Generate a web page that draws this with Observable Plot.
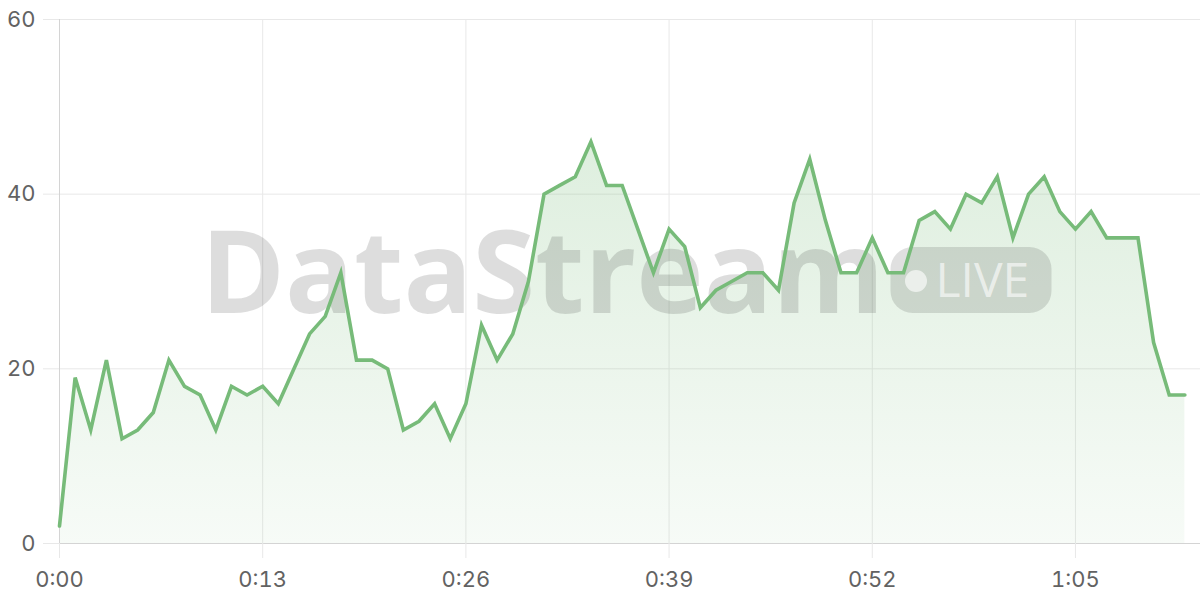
<!DOCTYPE html>
<html>
<head>
<meta charset="utf-8">
<script src="https://cdn.jsdelivr.net/npm/d3@7"></script>
<script src="https://cdn.jsdelivr.net/npm/@observablehq/plot@0.6"></script>
<style>
  html, body { margin: 0; padding: 0; background: #fff; }
  #chart { width: 1200px; height: 600px; }
</style>
</head>
<body>
<div id="chart"></div>
<script>
// Values, one sample per second (seconds 0..72)
const values = [
  2, 19, 13, 21, 12, 13, 15, 21, 18, 17,
  13, 18, 17, 18, 16, 20, 24, 26, 31, 21,
  21, 20, 13, 14, 16, 12, 16, 25, 21, 24,
  30, 40, 41, 42, 46, 41, 41, 36, 31, 36,
  34, 27, 29, 30, 31, 31, 29, 39, 44, 37,
  31, 31, 35, 31, 31, 37, 38, 36, 40, 39,
  42, 35, 40, 42, 38, 36, 38, 35, 35, 35,
  23, 17, 17
];
const seconds = values.map((_, i) => i);
const xTicks = [0, 13, 26, 39, 52, 65];
const xTickLabels = ["0:00", "0:13", "0:26", "0:39", "0:52", "1:05"];
const yTicks = [0, 20, 40, 60];
const watermarkTitle = "DataStream";
const watermarkBadge = "LIVE";

const data = seconds.map((t, i) => ({t, v: values[i]}));

const lineColor = "rgb(119,187,121)";
const gridColor = "#e8e8e8";
const axisColor = "#d4d4d4";
const labelColor = "#626262";

// gradient definition derived from the y scale
function gradientDefs(index, scales, values, dimensions) {
  const g = d3.create("svg:g");
  const defs = g.append("defs");
  const lg = defs.append("linearGradient")
    .attr("id", "areaGrad")
    .attr("gradientUnits", "userSpaceOnUse")
    .attr("x1", 0).attr("x2", 0)
    .attr("y1", scales.y(60)).attr("y2", scales.y(0));
  lg.append("stop").attr("offset", 0).attr("stop-color", lineColor).attr("stop-opacity", 0.3);
  lg.append("stop").attr("offset", 1).attr("stop-color", lineColor).attr("stop-opacity", 0.06);
  return g.node();
}

// watermark centered on the frame
function watermark(index, scales, values, dimensions) {
  const {width, height, marginLeft, marginRight, marginTop, marginBottom} = dimensions;
  const cx = (marginLeft + width - marginRight) / 2;
  const cy = (marginTop + height - marginBottom) / 2;
  const g = d3.create("svg:g").attr("pointer-events", "none");
  g.append("text")
    .attr("x", cx + 255).attr("y", cy + 32)
    .attr("text-anchor", "end")
    .attr("font-family", "'Open Sans', sans-serif")
    .attr("font-weight", 700)
    .attr("font-size", 114)
    .attr("fill", "#000").attr("fill-opacity", 0.135)
    .text(watermarkTitle);
  g.append("rect")
    .attr("x", cx + 261).attr("y", cy - 34)
    .attr("width", 161).attr("height", 66)
    .attr("rx", 22).attr("ry", 22)
    .attr("fill", "#000").attr("fill-opacity", 0.12);
  g.append("circle")
    .attr("cx", cx + 286.5).attr("cy", cy)
    .attr("r", 11)
    .attr("fill", "#fff").attr("fill-opacity", 0.62);
  g.append("text")
    .attr("x", cx + 306).attr("y", cy + 16)
    .attr("text-anchor", "start")
    .attr("font-family", "'Open Sans', sans-serif")
    .attr("font-weight", 500)
    .attr("font-size", 48)
    .attr("fill", "#fff").attr("fill-opacity", 0.62)
    .text(watermarkBadge);
  return g.node();
}

const chart = Plot.plot({
  width: 1200,
  height: 600,
  marginTop: 19,
  marginBottom: 57,
  marginLeft: 59,
  marginRight: 0,
  style: {fontFamily: "Inter, 'Open Sans', sans-serif", fontSize: "22px", background: "#fff"},
  x: {domain: [0, 73]},
  y: {domain: [0, 60]},
  marks: [
    gradientDefs,
    Plot.gridX(xTicks, {stroke: gridColor, strokeOpacity: 1}),
    Plot.gridY(yTicks, {stroke: gridColor, strokeOpacity: 1}),
    Plot.areaY(data, {x: "t", y: "v", fill: "url(#areaGrad)"}),
    Plot.ruleY([0], {stroke: axisColor}),
    Plot.ruleX([0], {stroke: axisColor}),
    watermark,
    Plot.lineY(data, {x: "t", y: "v", stroke: lineColor, strokeWidth: 3.6, strokeLinejoin: "miter", strokeMiterlimit: 4}),
    Plot.axisX(xTicks, {
      tickSize: 15, tickPadding: 13, stroke: gridColor, fill: labelColor,
      tickFormat: (d) => xTickLabels[xTicks.indexOf(d)], label: null, fontSize: 22
    }),
    Plot.axisY(yTicks, {
      tickSize: 16, tickPadding: 8, stroke: gridColor, fill: labelColor,
      label: null, fontSize: 22
    })
  ]
});
document.getElementById("chart").appendChild(chart);
</script>
</body>
</html>
